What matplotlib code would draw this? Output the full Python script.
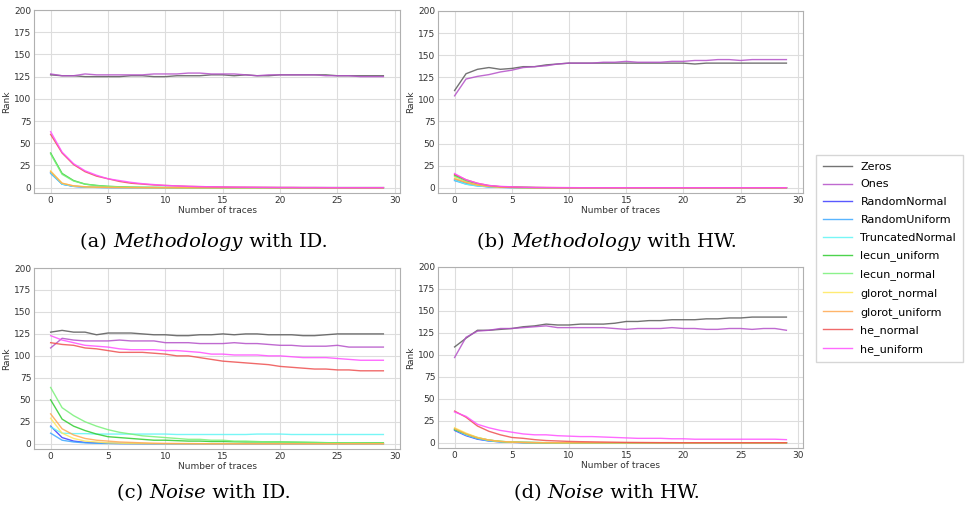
# Rank vs number of traces for different weight initializers (4 panels + shared legend)
import numpy as np
import matplotlib.pyplot as plt

traces = np.arange(30)

labels = ["Zeros", "Ones", "RandomNormal", "RandomUniform", "TruncatedNormal",
          "lecun_uniform", "lecun_normal", "glorot_normal", "glorot_uniform",
          "he_normal", "he_uniform"]
colors = ["#5a5a5a", "#b450c8", "#3c3cff", "#3ca8ff", "#5ff5f5",
          "#2ecc2e", "#78f078", "#ffe85a", "#ffa850", "#ee5050", "#ff50ff"]

# (a) Methodology with ID
panel_a = [
    [127, 126, 126, 125, 125, 125, 125, 126, 126, 125, 125, 126, 126, 126, 127, 127, 126, 127, 126, 126, 127, 127, 127, 127, 127, 126, 126, 126, 126, 126],
    [128, 126, 126, 128, 127, 127, 127, 127, 127, 128, 128, 128, 129, 129, 128, 128, 128, 127, 126, 127, 127, 127, 127, 127, 126, 126, 126, 125, 125, 125],
    [17, 4, 1.5, 0.8, 0.4, 0.2, 0.1, 0, 0, 0, 0, 0, 0, 0, 0, 0, 0, 0, 0, 0, 0, 0, 0, 0, 0, 0, 0, 0, 0, 0],
    [16, 4, 1.5, 0.7, 0.3, 0.2, 0.1, 0, 0, 0, 0, 0, 0, 0, 0, 0, 0, 0, 0, 0, 0, 0, 0, 0, 0, 0, 0, 0, 0, 0],
    [17, 4, 1.6, 0.8, 0.4, 0.2, 0.1, 0, 0, 0, 0, 0, 0, 0, 0, 0, 0, 0, 0, 0, 0, 0, 0, 0, 0, 0, 0, 0, 0, 0],
    [39, 16, 8, 4, 2.5, 1.5, 1, 0.6, 0.4, 0.3, 0.2, 0.1, 0, 0, 0, 0, 0, 0, 0, 0, 0, 0, 0, 0, 0, 0, 0, 0, 0, 0],
    [38, 15, 7.5, 4, 2.4, 1.4, 0.9, 0.5, 0.3, 0.2, 0.1, 0, 0, 0, 0, 0, 0, 0, 0, 0, 0, 0, 0, 0, 0, 0, 0, 0, 0, 0],
    [19, 5, 2, 1, 0.5, 0.3, 0.2, 0.1, 0, 0, 0, 0, 0, 0, 0, 0, 0, 0, 0, 0, 0, 0, 0, 0, 0, 0, 0, 0, 0, 0],
    [18, 5, 2, 1, 0.5, 0.3, 0.2, 0.1, 0, 0, 0, 0, 0, 0, 0, 0, 0, 0, 0, 0, 0, 0, 0, 0, 0, 0, 0, 0, 0, 0],
    [60, 39, 26, 18, 13, 10, 7, 5, 4, 3, 2.5, 2, 1.5, 1.2, 1, 0.8, 0.6, 0.5, 0.4, 0.3, 0.2, 0.2, 0.1, 0.1, 0, 0, 0, 0, 0, 0],
    [63, 40, 27, 19, 14, 10, 8, 6, 4.5, 3.5, 2.5, 2, 1.5, 1.2, 1, 0.8, 0.6, 0.5, 0.4, 0.3, 0.2, 0.2, 0.1, 0.1, 0.1, 0, 0, 0, 0, 0],
]

# (b) Methodology with HW
panel_b = [
    [110, 129, 134, 136, 134, 135, 137, 137, 139, 140, 141, 141, 141, 141, 141, 141, 141, 141, 141, 141, 141, 140, 141, 141, 141, 141, 141, 141, 141, 141],
    [104, 123, 126, 128, 131, 133, 136, 137, 138, 140, 141, 141, 141, 142, 142, 143, 142, 142, 142, 143, 143, 144, 144, 145, 145, 144, 145, 145, 145, 145],
    [9, 5, 2.5, 1, 0.5, 0.2, 0.1, 0, 0, 0, 0, 0, 0, 0, 0, 0, 0, 0, 0, 0, 0, 0, 0, 0, 0, 0, 0, 0, 0, 0],
    [8, 4, 2, 1, 0.4, 0.2, 0.1, 0, 0, 0, 0, 0, 0, 0, 0, 0, 0, 0, 0, 0, 0, 0, 0, 0, 0, 0, 0, 0, 0, 0],
    [9, 4, 2, 1, 0.4, 0.2, 0.1, 0, 0, 0, 0, 0, 0, 0, 0, 0, 0, 0, 0, 0, 0, 0, 0, 0, 0, 0, 0, 0, 0, 0],
    [14, 8, 4, 2, 1, 0.5, 0.2, 0.1, 0, 0, 0, 0, 0, 0, 0, 0, 0, 0, 0, 0, 0, 0, 0, 0, 0, 0, 0, 0, 0, 0],
    [13, 7, 3.5, 1.8, 0.9, 0.4, 0.2, 0.1, 0, 0, 0, 0, 0, 0, 0, 0, 0, 0, 0, 0, 0, 0, 0, 0, 0, 0, 0, 0, 0, 0],
    [11, 6, 3, 1.5, 0.7, 0.3, 0.1, 0, 0, 0, 0, 0, 0, 0, 0, 0, 0, 0, 0, 0, 0, 0, 0, 0, 0, 0, 0, 0, 0, 0],
    [10, 6, 3, 1.5, 0.7, 0.3, 0.1, 0, 0, 0, 0, 0, 0, 0, 0, 0, 0, 0, 0, 0, 0, 0, 0, 0, 0, 0, 0, 0, 0, 0],
    [15, 9, 5, 2.5, 1.2, 0.8, 0.5, 0.3, 0.2, 0.1, 0, 0, 0, 0, 0, 0, 0, 0, 0, 0, 0, 0, 0, 0, 0, 0, 0, 0, 0, 0],
    [16, 9, 5, 2.5, 1.5, 1, 0.5, 0.3, 0.2, 0.1, 0.1, 0, 0, 0, 0, 0, 0, 0, 0, 0, 0, 0, 0, 0, 0, 0, 0, 0, 0, 0],
]

# (c) Noise with ID
panel_c = [
    [127, 129, 127, 127, 124, 126, 126, 126, 125, 124, 124, 123, 123, 124, 124, 125, 124, 125, 125, 124, 124, 124, 123, 123, 124, 125, 125, 125, 125, 125],
    [109, 120, 118, 117, 117, 117, 118, 117, 117, 117, 115, 115, 115, 114, 114, 114, 115, 114, 114, 113, 112, 112, 111, 111, 111, 112, 110, 110, 110, 110],
    [20, 7, 3, 1.5, 1, 0.5, 0.3, 0.2, 0.1, 0, 0, 0, 0, 0, 0, 0, 0, 0, 0, 0, 0, 0, 0, 0, 0, 0, 0, 0, 0, 0],
    [12, 4, 2, 1, 0.5, 0.3, 0.2, 0.1, 0, 0, 0, 0, 0, 0, 0, 0, 0, 0, 0, 0, 0, 0, 0, 0, 0, 0, 0, 0, 0, 0],
    [19, 12, 11.5, 11.5, 11, 11, 11, 11, 11, 11, 11, 10.5, 10.5, 10.5, 10.5, 10.5, 10.5, 10.5, 11, 11, 11, 10.5, 10.5, 10.5, 10.5, 10.5, 10.5, 10.5, 10.5, 10.5],
    [50, 28, 20, 15, 11, 8, 7, 6, 5, 4, 4, 3.5, 3, 3, 2.5, 2.5, 2.2, 2, 2, 2, 2, 1.8, 1.6, 1.4, 1.2, 1.1, 1, 1, 1, 1],
    [64, 41, 32, 25, 20, 16, 13, 11, 9, 8, 7, 6, 5, 5, 4, 4, 3, 3, 2.5, 2, 2, 1.8, 1.6, 1.4, 1.2, 1, 1, 0.8, 0.6, 0.5],
    [29, 12, 6, 3, 2, 1, 0.6, 0.3, 0.2, 0.1, 0, 0, 0, 0, 0, 0, 0, 0, 0, 0, 0, 0, 0, 0, 0, 0, 0, 0, 0, 0],
    [34, 17, 10, 6, 4, 3, 2, 1.5, 1, 0.6, 0.4, 0.3, 0.2, 0.1, 0, 0, 0, 0, 0, 0, 0, 0, 0, 0, 0, 0, 0, 0, 0, 0],
    [115, 113, 112, 109, 108, 106, 104, 104, 104, 103, 102, 100, 100, 98, 96, 94, 93, 92, 91, 90, 88, 87, 86, 85, 85, 84, 84, 83, 83, 83],
    [123, 118, 115, 112, 111, 110, 108, 107, 107, 107, 106, 106, 105, 104, 102, 102, 101, 101, 101, 100, 100, 99, 98, 98, 98, 97, 96, 95, 95, 95],
]

# (d) Noise with HW
panel_d = [
    [109, 119, 128, 128, 129, 130, 132, 133, 135, 134, 134, 135, 135, 135, 136, 138, 138, 139, 139, 140, 140, 140, 141, 141, 142, 142, 143, 143, 143, 143],
    [97, 120, 127, 128, 130, 130, 131, 132, 133, 131, 131, 131, 131, 131, 130, 129, 130, 130, 130, 131, 130, 130, 129, 129, 130, 130, 129, 130, 130, 128],
    [14, 8, 4, 2, 1, 0.5, 0.2, 0.1, 0, 0, 0, 0, 0, 0, 0, 0, 0, 0, 0, 0, 0, 0, 0, 0, 0, 0, 0, 0, 0, 0],
    [15, 9, 4.5, 2.2, 1, 0.5, 0.2, 0.1, 0, 0, 0, 0, 0, 0, 0, 0, 0, 0, 0, 0, 0, 0, 0, 0, 0, 0, 0, 0, 0, 0],
    [15, 9, 5, 2.5, 1.2, 0.6, 0.3, 0.1, 0, 0, 0, 0, 0, 0, 0, 0, 0, 0, 0, 0, 0, 0, 0, 0, 0, 0, 0, 0, 0, 0],
    [15, 10, 5.5, 3, 1.5, 0.7, 0.3, 0.1, 0, 0, 0, 0, 0, 0, 0, 0, 0, 0, 0, 0, 0, 0, 0, 0, 0, 0, 0, 0, 0, 0],
    [16, 10, 6, 3, 1.5, 0.8, 0.4, 0.2, 0.1, 0, 0, 0, 0, 0, 0, 0, 0, 0, 0, 0, 0, 0, 0, 0, 0, 0, 0, 0, 0, 0],
    [17, 11, 6, 3, 1.5, 0.8, 0.4, 0.2, 0.1, 0, 0, 0, 0, 0, 0, 0, 0, 0, 0, 0, 0, 0, 0, 0, 0, 0, 0, 0, 0, 0],
    [16, 10, 5.5, 3, 1.5, 0.7, 0.3, 0.1, 0, 0, 0, 0, 0, 0, 0, 0, 0, 0, 0, 0, 0, 0, 0, 0, 0, 0, 0, 0, 0, 0],
    [36, 29, 19, 13, 9, 6, 5, 3.5, 2.5, 2, 1.5, 1.2, 1, 0.8, 0.6, 0.4, 0.3, 0.2, 0.1, 0.1, 0, 0, 0, 0, 0, 0, 0, 0, 0, 0],
    [35, 30, 21, 17, 14, 12, 10, 9, 9, 8, 7.5, 7, 7, 6.5, 6, 5.5, 5, 5, 5, 4.5, 4.5, 4, 4, 4, 4, 4, 4, 4, 4, 3.5],
]

captions = [("(a) ", "Methodology", " with ID."),
            ("(b) ", "Methodology", " with HW."),
            ("(c) ", "Noise", " with ID."),
            ("(d) ", "Noise", " with HW.")]

W, H = 968, 513
fig = plt.figure(figsize=(W / 100, H / 100), dpi=100)

# axes boxes in pixels: left, top, right, bottom
boxes = [(34, 10, 400, 193), (438, 11, 803, 193),
         (34, 268, 400, 449), (438, 267, 803, 448)]
panels = [panel_a, panel_b, panel_c, panel_d]

for (l, t, r, b), data in zip(boxes, panels):
    ax = fig.add_axes([l / W, 1 - b / H, (r - l) / W, (b - t) / H])
    for series, lab, col in zip(data, labels, colors):
        ax.plot(traces, series, color=col, lw=1.0, alpha=0.85, label=lab)
    ax.set_ylim(-6, 200)
    ax.set_xlim(-1.45, 30.45)
    ax.set_xticks([0, 5, 10, 15, 20, 25, 30])
    ax.set_yticks([0, 25, 50, 75, 100, 125, 150, 175, 200])
    ax.grid(True, color="#dddddd", lw=0.8)
    ax.set_axisbelow(True)
    for s in ax.spines.values():
        s.set_color("#b0b0b0")
    ax.tick_params(length=0, pad=2, labelsize=6.5, colors="#333333")
    ax.set_xlabel("Number of traces", fontsize=6.5, color="#333333", labelpad=1)
    ax.set_ylabel("Rank", fontsize=6.5, color="#333333", labelpad=2)
    if data is panel_a:
        handles, labs = ax.get_legend_handles_labels()

leg = fig.legend(handles, labs, loc="upper left", bbox_to_anchor=(816 / W, 1 - 155 / H),
                 borderaxespad=0, fontsize=8.0, frameon=True, fancybox=False,
                 edgecolor="#cccccc", labelspacing=0.70, handlelength=2.6,
                 handletextpad=0.8, borderpad=0.6)
for line in leg.get_lines():
    line.set_alpha(0.85)

# captions under each panel, middle word in italics
cap_pos = [(204, 242), (607, 242), (204, 493), (607, 493)]
for (cx, cy), (a, mid, c) in zip(cap_pos, captions):
    t1 = fig.text(0, 0, a, fontsize=14, family="DejaVu Serif")
    t2 = fig.text(0, 0, mid, fontsize=14, family="DejaVu Serif", style="italic")
    t3 = fig.text(0, 0, c, fontsize=14, family="DejaVu Serif")
    fig.canvas.draw()
    r = fig.canvas.get_renderer()
    widths = [t.get_window_extent(r).width for t in (t1, t2, t3)]
    x = cx - sum(widths) / 2
    for t, w in zip((t1, t2, t3), widths):
        t.set_position((x / W, 1 - cy / H))
        t.set_va("center")
        x += w

fig.savefig("out.png", dpi=100)
